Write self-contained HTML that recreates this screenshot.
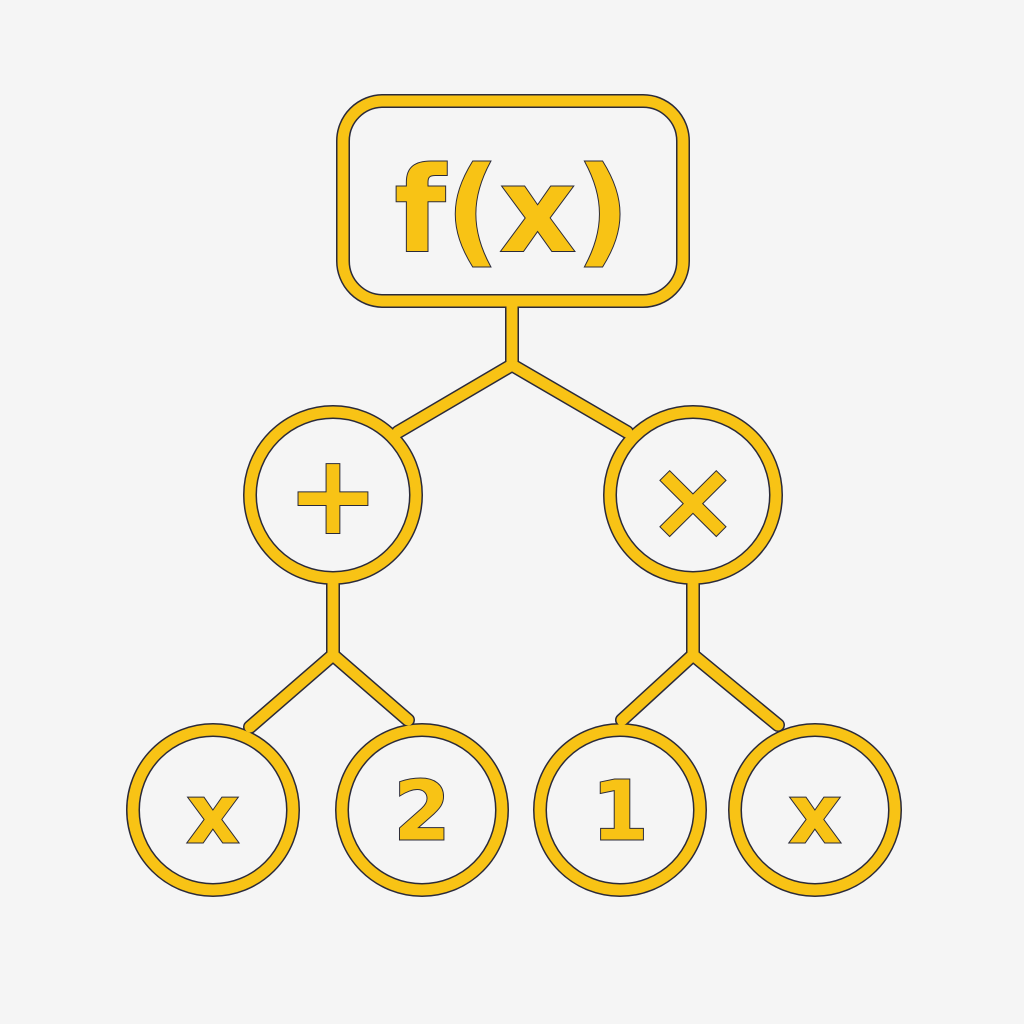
<!DOCTYPE html>
<html><head><meta charset="utf-8"><style>
html,body{margin:0;padding:0;background:#f5f5f5;}
svg{display:block}
text{font-family:"DejaVu Sans","Liberation Sans",sans-serif;font-weight:bold;fill:#f8c315;stroke:#2a2a3a;stroke-width:2;paint-order:stroke;text-anchor:middle;dominant-baseline:central}
</style></head><body>
<svg width="1024" height="1024" viewBox="0 0 1024 1024">
<rect width="1024" height="1024" fill="#f5f5f5"/>
<g fill="none" stroke-linecap="round" stroke-linejoin="round">
<g stroke="#2a2a3a" stroke-width="14">
<rect x="343" y="101" width="340" height="200" rx="40"/>
<path d="M512 301V365M512 365L398 432M512 365L627 432"/>
<circle cx="333" cy="495" r="83"/><circle cx="693" cy="495" r="83"/>
<path d="M333 578V655M333 655L250 727M333 655L408 720"/>
<path d="M693 578V655M693 655L622 720M693 655L778 725"/>
<circle cx="213" cy="810" r="80"/><circle cx="422" cy="810" r="80"/>
<circle cx="620" cy="810" r="80"/><circle cx="815" cy="810" r="80"/>
</g>
<g stroke="#f8c315" stroke-width="11">
<rect x="343" y="101" width="340" height="200" rx="40"/>
<path d="M512 301V365M512 365L398 432M512 365L627 432"/>
<circle cx="333" cy="495" r="83"/>
<circle cx="693" cy="495" r="83"/>
<path d="M333 578V655M333 655L250 727M333 655L408 720"/>
<path d="M693 578V655M693 655L622 720M693 655L778 725"/>
<circle cx="213" cy="810" r="80"/>
<circle cx="422" cy="810" r="80"/>
<circle cx="620" cy="810" r="80"/>
<circle cx="815" cy="810" r="80"/>
</g>
</g>
<text x="512" y="210" font-size="118">f(x)</text>
<text x="333" y="495" font-size="110">+</text>
<text x="693" y="500" font-size="110">×</text>
<text x="213" y="815" font-size="82">x</text>
<text x="422" y="812" font-size="82">2</text>
<text x="620" y="812" font-size="82">1</text>
<text x="815" y="815" font-size="82">x</text>
</svg>
</body></html>
